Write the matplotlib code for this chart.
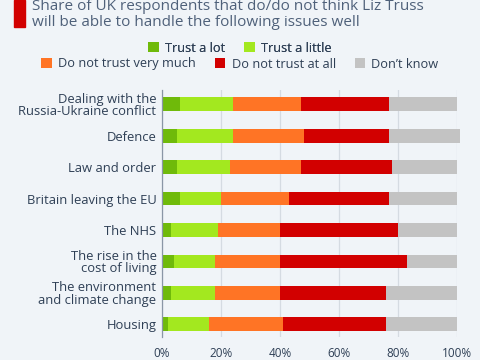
import matplotlib
matplotlib.use('Agg')
import matplotlib.pyplot as plt
import numpy as np
from matplotlib.patches import Rectangle

plt.rcParams['font.family'] = ['Open Sans', 'DejaVu Sans']

ISSUES = ["Dealing with the\nRussia-Ukraine conflict", "Defence", "Law and order",
          "Britain leaving the EU", "The NHS", "The rise in the\ncost of living",
          "The environment\nand climate change", "Housing"]
SERIES = ["Trust a lot", "Trust a little", "Do not trust very much",
          "Do not trust at all", "Don\u2019t know"]
TRUST_LOT = [6, 5, 5, 6, 3, 4, 3, 2]
TRUST_LITTLE = [18, 19, 18, 14, 16, 14, 15, 14]
NOT_MUCH = [23, 24, 24, 23, 21, 22, 22, 25]
NOT_AT_ALL = [30, 29, 31, 34, 40, 43, 36, 35]
DONT_KNOW = [23, 24, 22, 23, 20, 17, 24, 24]
COLORS = ["#6fba0a", "#a3e81f", "#ff7425", "#d20000", "#c3c3c3"]

BG = "#f0f4f8"
TEXT = "#2e3f55"
TITLE = "#4f617a"

fig = plt.figure(figsize=(4.8, 3.6), dpi=100)
fig.patch.set_facecolor(BG)
ax = fig.add_axes([0.3375, 0.064, 0.6145, 0.686])
ax.set_facecolor(BG)

y = np.arange(len(ISSUES))
left = np.zeros(len(ISSUES))
for vals, name, col in zip([TRUST_LOT, TRUST_LITTLE, NOT_MUCH, NOT_AT_ALL, DONT_KNOW],
                           SERIES, COLORS):
    ax.barh(y, vals, left=left, height=0.44, color=col, label=name, zorder=3, clip_on=False)
    left += np.array(vals)

ax.set_ylim(7.4, -0.45)
ax.set_xlim(0, 100)
ax.set_xticks([0, 20, 40, 60, 80, 100])
ax.set_xticklabels(["0%", "20%", "40%", "60%", "80%", "100%"])
ax.set_yticks(y)
ax.set_yticklabels(ISSUES, linespacing=0.95)
ax.tick_params(axis='both', length=0, colors=TEXT, labelsize=9.4)
ax.tick_params(axis='x', pad=7, labelsize=8.5)
ax.tick_params(axis='y', pad=4)
ax.grid(axis='x', color="#d5dbe2", linewidth=0.9, zorder=0)
for s in ["top", "right", "bottom"]:
    ax.spines[s].set_visible(False)
ax.spines["left"].set_color("#8a96a6")
ax.spines["left"].set_linewidth(0.9)
ax.spines["left"].set_zorder(4)

# title with red accent bar
fig.patches.append(Rectangle((14 / 480, 1 - 27 / 360), 11 / 480, 27 / 360,
                             transform=fig.transFigure, color="#d20000"))
fig.text(32 / 480, 1 - 6 / 360, "Share of UK respondents that do/do not think Liz Truss",
         fontsize=11, color=TITLE, va='center', ha='left')
fig.text(32 / 480, 1 - 22 / 360, "will be able to handle the following issues well",
         fontsize=11, color=TITLE, va='center', ha='left')

handles, labels = ax.get_legend_handles_labels()
leg1 = fig.legend(handles[:2], labels[:2], loc='center', bbox_to_anchor=(0.5, 1 - 48 / 360),
                  ncol=2, frameon=False, fontsize=9.2, handlelength=0.8, handleheight=0.8,
                  handletextpad=0.5, columnspacing=1.5, labelcolor=TEXT)
leg2 = fig.legend(handles[2:], labels[2:], loc='center', bbox_to_anchor=(0.5, 1 - 64 / 360),
                  ncol=3, frameon=False, fontsize=9.2, handlelength=0.8, handleheight=0.8,
                  handletextpad=0.5, columnspacing=1.5, labelcolor=TEXT)
fig.add_artist(leg1)

fig.savefig("out.png", dpi=100, facecolor=BG)
